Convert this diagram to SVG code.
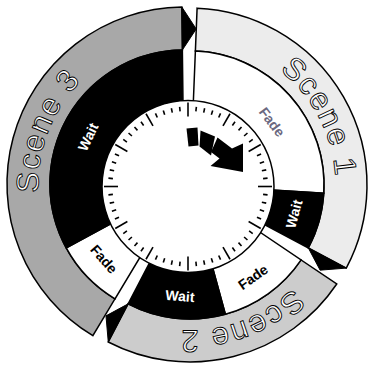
<svg xmlns="http://www.w3.org/2000/svg" xmlns:xlink="http://www.w3.org/1999/xlink" width="372" height="366" viewBox="0 0 372 366">
<style>
.o{stroke:#000;stroke-width:1.5;stroke-linejoin:miter}
.fade{fill:#fff}
.wait{fill:#000}
.tip{fill:#000;stroke:#000;stroke-width:1}
.sc{font-family:"Liberation Sans",Arial,sans-serif;font-size:31px;fill:#fff;stroke:#000;stroke-width:0.9;letter-spacing:1.5px}
.lb{font-family:"Liberation Sans",Arial,sans-serif;font-size:14px;font-weight:bold;text-anchor:middle;dominant-baseline:central}
.tk{stroke:#000;stroke-width:1.6}
</style>
<defs>
<path id="p1" d="M196.35,39.64 A145.5,145.5 0 0 1 312.71,263.18"/>
<path id="p2" d="M333.51,209.01 A145.5,145.5 0 0 1 97.45,297.27"/>
<path id="p3" d="M70.92,275.57 A145.5,145.5 0 0 1 161.24,40.29"/>
<line id="maj" class="tk" x1="188" y1="102.5" x2="188" y2="116.5"/>
<line id="min" class="tk" x1="188" y1="106.5" x2="188" y2="111"/>
</defs>
<g id="scene1">
<path class="o" fill="#ececec" d="M197.10,8.14 A177,177 0 0 1 346.28,268.10 L308.32,247.91 A134,134 0 0 0 195.38,51.11 Z"/>
<path class="o fade" d="M195.38,51.11 A134,134 0 0 1 323.75,193.18 L265.86,189.64 A76,76 0 0 0 193.05,109.06 Z"/>
<path class="o wait" d="M323.75,193.18 A134,134 0 0 1 308.32,247.91 L257.10,220.68 A76,76 0 0 0 265.86,189.64 Z"/>
<path class="tip" d="M308.32,247.91 L346.28,268.10 L320.12,270.15 Z"/>
<text class="sc"><textPath href="#p1" startOffset="50%" text-anchor="middle">Scene 1</textPath></text>
</g>
<g id="scene2">
<path class="o" fill="#cccccc" d="M336.74,283.98 A177,177 0 0 1 108.27,342.0 L128.13,303.86 A134,134 0 0 0 301.09,259.93 Z"/>
<path class="o fade" d="M301.09,259.93 A134,134 0 0 1 225.36,314.25 L210.05,258.31 A76,76 0 0 0 253.01,227.50 Z"/>
<path class="o wait" d="M225.36,314.25 A134,134 0 0 1 128.13,303.86 L154.91,252.41 A76,76 0 0 0 210.05,258.31 Z"/>
<path class="tip" d="M128.13,303.86 L108.27,342.0 L105.99,315.85 Z"/>
<text class="sc"><textPath href="#p2" startOffset="50%" text-anchor="middle">Scene 2</textPath></text>
</g>
<g id="scene3">
<path class="o" fill="#a8a8a8" d="M92.84,335.72 A177,177 0 0 1 181.84,7.01 L182.36,50.01 A134,134 0 0 0 114.98,298.86 Z"/>
<path class="o fade" d="M114.98,298.86 A134,134 0 0 1 66.24,247.94 L117.21,220.26 A76,76 0 0 0 144.86,249.14 Z"/>
<path class="o wait" d="M66.24,247.94 A134,134 0 0 1 182.36,50.01 L183.07,108.01 A76,76 0 0 0 117.21,220.26 Z"/>
<path class="tip" d="M182.36,50.01 L181.84,7.01 L196.2,28.98 Z"/>
<text class="sc"><textPath href="#p3" startOffset="50%" text-anchor="middle">Scene 3</textPath></text>
</g>
<g id="clock">
<circle cx="188" cy="186.5" r="86" fill="#fff" stroke="#000" stroke-width="1.5"/>
<use href="#maj"/><use href="#min" transform="rotate(6 188 186.5)"/><use href="#min" transform="rotate(12 188 186.5)"/><use href="#min" transform="rotate(18 188 186.5)"/><use href="#min" transform="rotate(24 188 186.5)"/>
<use href="#maj" transform="rotate(30 188 186.5)"/><use href="#min" transform="rotate(36 188 186.5)"/><use href="#min" transform="rotate(42 188 186.5)"/><use href="#min" transform="rotate(48 188 186.5)"/><use href="#min" transform="rotate(54 188 186.5)"/>
<use href="#maj" transform="rotate(60 188 186.5)"/><use href="#min" transform="rotate(66 188 186.5)"/><use href="#min" transform="rotate(72 188 186.5)"/><use href="#min" transform="rotate(78 188 186.5)"/><use href="#min" transform="rotate(84 188 186.5)"/>
<use href="#maj" transform="rotate(90 188 186.5)"/><use href="#min" transform="rotate(96 188 186.5)"/><use href="#min" transform="rotate(102 188 186.5)"/><use href="#min" transform="rotate(108 188 186.5)"/><use href="#min" transform="rotate(114 188 186.5)"/>
<use href="#maj" transform="rotate(120 188 186.5)"/><use href="#min" transform="rotate(126 188 186.5)"/><use href="#min" transform="rotate(132 188 186.5)"/><use href="#min" transform="rotate(138 188 186.5)"/><use href="#min" transform="rotate(144 188 186.5)"/>
<use href="#maj" transform="rotate(150 188 186.5)"/><use href="#min" transform="rotate(156 188 186.5)"/><use href="#min" transform="rotate(162 188 186.5)"/><use href="#min" transform="rotate(168 188 186.5)"/><use href="#min" transform="rotate(174 188 186.5)"/>
<use href="#maj" transform="rotate(180 188 186.5)"/><use href="#min" transform="rotate(186 188 186.5)"/><use href="#min" transform="rotate(192 188 186.5)"/><use href="#min" transform="rotate(198 188 186.5)"/><use href="#min" transform="rotate(204 188 186.5)"/>
<use href="#maj" transform="rotate(210 188 186.5)"/><use href="#min" transform="rotate(216 188 186.5)"/><use href="#min" transform="rotate(222 188 186.5)"/><use href="#min" transform="rotate(228 188 186.5)"/><use href="#min" transform="rotate(234 188 186.5)"/>
<use href="#maj" transform="rotate(240 188 186.5)"/><use href="#min" transform="rotate(246 188 186.5)"/><use href="#min" transform="rotate(252 188 186.5)"/><use href="#min" transform="rotate(258 188 186.5)"/><use href="#min" transform="rotate(264 188 186.5)"/>
<use href="#maj" transform="rotate(270 188 186.5)"/><use href="#min" transform="rotate(276 188 186.5)"/><use href="#min" transform="rotate(282 188 186.5)"/><use href="#min" transform="rotate(288 188 186.5)"/><use href="#min" transform="rotate(294 188 186.5)"/>
<use href="#maj" transform="rotate(300 188 186.5)"/><use href="#min" transform="rotate(306 188 186.5)"/><use href="#min" transform="rotate(312 188 186.5)"/><use href="#min" transform="rotate(318 188 186.5)"/><use href="#min" transform="rotate(324 188 186.5)"/>
<use href="#maj" transform="rotate(330 188 186.5)"/><use href="#min" transform="rotate(336 188 186.5)"/><use href="#min" transform="rotate(342 188 186.5)"/><use href="#min" transform="rotate(348 188 186.5)"/><use href="#min" transform="rotate(354 188 186.5)"/>
<polygon points="186.5,128.5 197.5,127.5 198.5,145.5 188.5,146.5" fill="#000"/>
<polygon points="200.5,130.5 215,136.5 211,155.5 199.5,146.5" fill="#000"/>
<polygon points="217.5,137.5 232,148.5 243,143.5 243,172 210.5,166 219.5,158.5 211,152" fill="#000"/>
</g>
<g id="labels">
<text class="lb" fill="#fff" transform="translate(88,137) rotate(-64)">Wait</text>
<text class="lb" fill="#6b6880" transform="translate(272,122) rotate(53)">Fade</text>
<text class="lb" fill="#fff" transform="translate(294,214) rotate(-75)">Wait</text>
<text class="lb" fill="#000" transform="translate(253,277) rotate(-35)">Fade</text>
<text class="lb" fill="#fff" transform="translate(180,296) rotate(5)">Wait</text>
<text class="lb" fill="#000" transform="translate(104,259) rotate(49)">Fade</text>
</g>
</svg>
